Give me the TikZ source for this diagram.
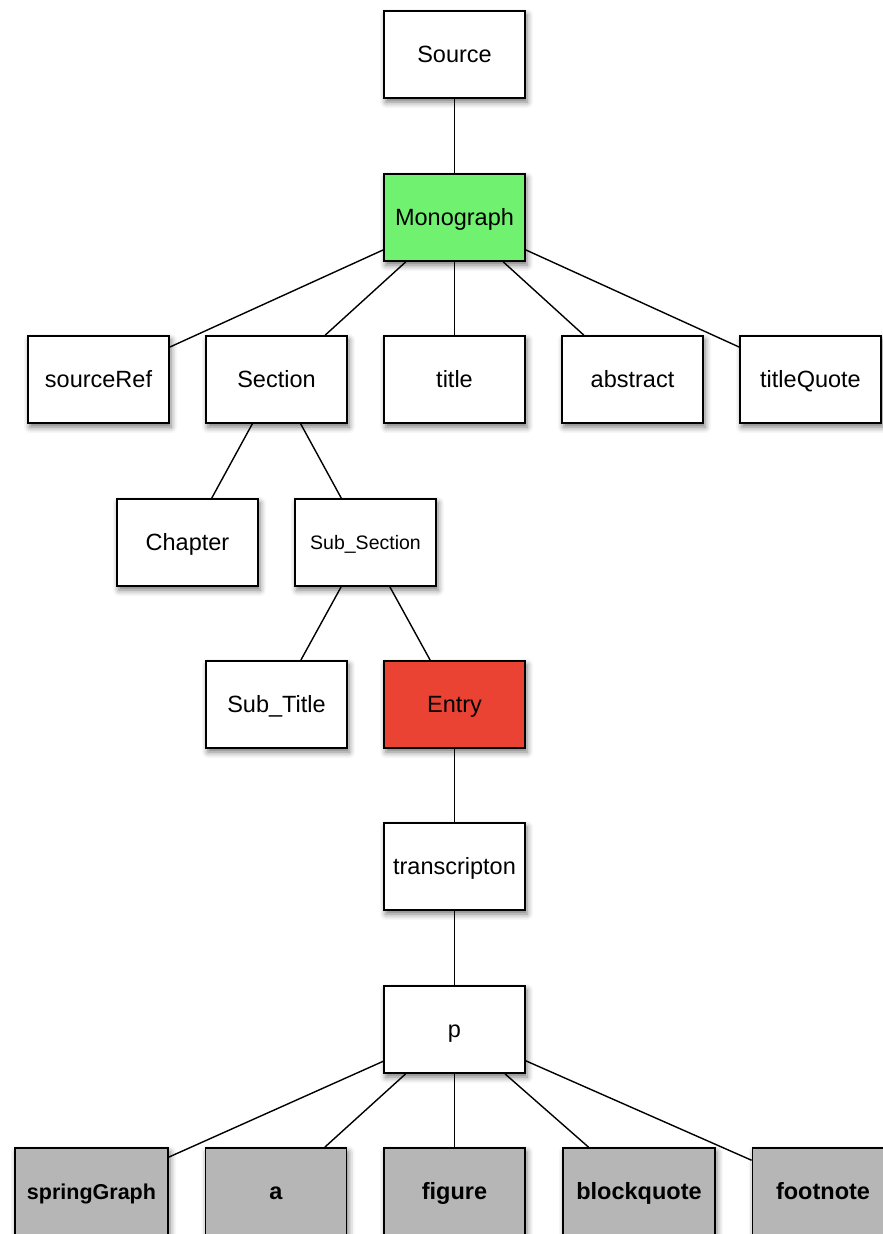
\documentclass[tikz,border=0pt]{standalone}
\usepackage{fontspec}
\setmainfont{Liberation Sans}
\usetikzlibrary{shadows.blur}
\definecolor{mgreen}{RGB}{112,242,112}
\definecolor{mred}{RGB}{234,67,52}
\definecolor{mgray}{RGB}{182,182,182}
\tikzset{
  box/.style={draw=black, line width=1.8pt, fill=white, minimum width=141pt, minimum height=87pt, inner sep=0pt,
    font=\fontsize{23.5}{28}\selectfont, text height=17pt, text depth=2pt,
    blur shadow={shadow xshift=2pt, shadow yshift=-4pt, shadow blur radius=6pt, shadow opacity=55}},
  greenbox/.style={box, fill=mgreen},
  redbox/.style={box, fill=mred},
  graybox/.style={box, fill=mgray, font=\fontsize{23.5}{28}\selectfont\bfseries},
  link/.style={line width=1.4pt, draw=black}
}
\begin{document}
\begin{tikzpicture}[x=1pt,y=-1pt]
\useasboundingbox (0,0) rectangle (883,1234);
\node[box] (source) at (454.5,54.5) {Source};
\node[greenbox] (mono) at (454.5,217.5) {Monograph};
\node[box] (sref) at (98.5,379.5) {sourceRef};
\node[box] (sec) at (276.5,379.5) {Section};
\node[box] (title) at (454.5,379.5) {title};
\node[box] (abs) at (632.5,379.5) {abstract};
\node[box] (tq) at (810.5,379.5) {titleQuote};
\node[box] (chap) at (187.5,542.5) {Chapter};
\node[box, font=\fontsize{19.5}{24}\selectfont, text height=14pt, text depth=0pt] (subsec) at (365.5,542.5) {Sub\_Section};
\node[box] (subt) at (276.5,704.5) {Sub\_Title};
\node[redbox] (entry) at (454.5,704.5) {Entry};
\node[box] (trans) at (454.5,866.5) {transcripton};
\node[box] (p) at (454.5,1029.5) {p};
\node[graybox, minimum width=153pt, font=\fontsize{21.5}{26}\selectfont\bfseries] (spring) at (91.5,1191.5) {springGraph};
\node[graybox] (a) at (276,1191.5) {a};
\node[graybox] (fig) at (454.5,1191.5) {figure};
\node[graybox, minimum width=152pt] (bq) at (639,1191.5) {blockquote};
\node[graybox] (fn) at (823,1191.5) {footnote};
\draw[link] (source) -- (mono);
\draw[link] (mono) -- (sref);
\draw[link] (mono) -- (sec);
\draw[link] (mono) -- (title);
\draw[link] (mono) -- (abs);
\draw[link] (mono) -- (tq);
\draw[link] (sec) -- (chap);
\draw[link] (sec) -- (subsec);
\draw[link] (subsec) -- (subt);
\draw[link] (subsec) -- (entry);
\draw[link] (entry) -- (trans);
\draw[link] (trans) -- (p);
\draw[link] (p) -- (spring);
\draw[link] (p) -- (a);
\draw[link] (p) -- (fig);
\draw[link] (p) -- (bq);
\draw[link] (p) -- (fn);
\end{tikzpicture}
\end{document}
